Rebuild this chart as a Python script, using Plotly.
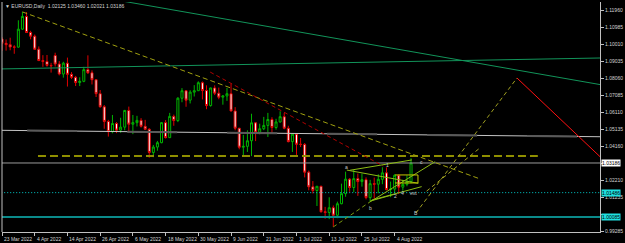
import plotly.graph_objects as go

# ---------------- data ----------------
dates = ["23 Mar","24 Mar","25 Mar","28 Mar","29 Mar","30 Mar","31 Mar","1 Apr",
         "4 Apr","5 Apr","6 Apr","7 Apr","8 Apr","11 Apr","12 Apr","13 Apr",
         "14 Apr","15 Apr","18 Apr","19 Apr","20 Apr","21 Apr","22 Apr","25 Apr",
         "26 Apr","27 Apr","28 Apr","29 Apr","2 May","3 May","4 May","5 May",
         "6 May","9 May","10 May","11 May","12 May","13 May","16 May","17 May",
         "18 May","19 May","20 May","23 May","24 May","25 May","26 May","27 May",
         "30 May","31 May","1 Jun","2 Jun","3 Jun","6 Jun","7 Jun","8 Jun",
         "9 Jun","10 Jun","13 Jun","14 Jun","15 Jun","16 Jun","17 Jun","20 Jun",
         "21 Jun","22 Jun","23 Jun","24 Jun","27 Jun","28 Jun","29 Jun","30 Jun",
         "1 Jul","4 Jul","5 Jul","6 Jul","7 Jul","8 Jul","11 Jul","12 Jul",
         "13 Jul","14 Jul","15 Jul","18 Jul","19 Jul","20 Jul","21 Jul","22 Jul",
         "25 Jul","26 Jul","27 Jul","28 Jul","29 Jul","1 Aug","2 Aug","3 Aug",
         "4 Aug","5 Aug","8 Aug","9 Aug","10 Aug"]

opens = [1.1030,1.1005,1.0997,1.0984,1.0983,1.1086,1.1159,1.1067,
         1.1046,1.0971,1.0906,1.0901,1.0878,1.0935,1.0886,1.0829,
         1.0891,1.0827,1.0810,1.0780,1.0787,1.0854,1.0836,1.0796,
         1.0716,1.0641,1.0557,1.0498,1.0545,1.0507,1.0524,1.0620,
         1.0541,1.0550,1.0563,1.0529,1.0512,1.0379,1.0410,1.0435,
         1.0550,1.0464,1.0586,1.0562,1.0690,1.0733,1.0679,1.0725,
         1.0733,1.0779,1.0734,1.0648,1.0749,1.0719,1.0696,1.0703,
         1.0716,1.0617,1.0518,1.0409,1.0414,1.0446,1.0549,1.0495,
         1.0515,1.0534,1.0568,1.0522,1.0554,1.0584,1.0518,1.0441,
         1.0484,1.0426,1.0425,1.0266,1.0182,1.0161,1.0185,1.0039,
         1.0035,1.0062,1.0019,1.0085,1.0143,1.0226,1.0178,1.0229,
         1.0212,1.0223,1.0120,1.0200,1.0197,1.0225,1.0262,1.0166,
         1.0169,1.0248,1.0180,1.0196,1.02125]
highs = [1.1040,1.1027,1.1037,1.0994,1.1137,1.1185,1.1184,1.1077,
         1.1055,1.0987,1.0937,1.0938,1.0893,1.0951,1.0903,1.0899,
         1.0923,1.0840,1.0818,1.0810,1.0870,1.0936,1.0850,1.0797,
         1.0737,1.0651,1.0566,1.0594,1.0553,1.0578,1.0623,1.0642,
         1.0594,1.0589,1.0576,1.0566,1.0518,1.0422,1.0445,1.0553,
         1.0565,1.0606,1.0596,1.0696,1.0748,1.0737,1.0736,1.0765,
         1.0787,1.0786,1.0764,1.0750,1.0764,1.0751,1.0708,1.0749,
         1.0774,1.0639,1.0520,1.0480,1.0506,1.0601,1.0553,1.0544,
         1.0583,1.0606,1.0581,1.0572,1.0615,1.0606,1.0532,1.0487,
         1.0486,1.0462,1.0433,1.0275,1.0215,1.0186,1.0188,1.0067,
         1.0122,1.0075,1.0097,1.0200,1.0269,1.0232,1.0278,1.0258,
         1.0258,1.0236,1.0222,1.0235,1.0254,1.0294,1.0293,1.0212,
         1.0254,1.0252,1.0222,1.0248,1.03460]
lows = [1.0962,1.0963,1.0965,1.0945,1.0980,1.1083,1.1064,1.1028,
        1.0968,1.0903,1.0870,1.0871,1.0837,1.0872,1.0821,1.0808,
        1.0757,1.0800,1.0760,1.0760,1.0782,1.0829,1.0769,1.0697,
        1.0636,1.0515,1.0470,1.0489,1.0490,1.0492,1.0506,1.0493,
        1.0484,1.0528,1.0522,1.0510,1.0349,1.0352,1.0389,1.0432,
        1.0459,1.0462,1.0532,1.0553,1.0667,1.0641,1.0660,1.0700,
        1.0732,1.0683,1.0627,1.0642,1.0708,1.0684,1.0653,1.0675,
        1.0614,1.0506,1.0397,1.0358,1.0382,1.0358,1.0444,1.0483,
        1.0507,1.0468,1.0487,1.0510,1.0550,1.0512,1.0437,1.0382,
        1.0365,1.0410,1.0236,1.0162,1.0144,1.0072,1.0034,0.9999,
        0.9997,0.9952,1.0002,1.0082,1.0125,1.0153,1.0151,1.0130,
        1.0183,1.0110,1.0096,1.0113,1.0145,1.0197,1.0162,1.0123,
        1.0147,1.0141,1.0160,1.0185,1.02021]
closes = [1.1005,1.0997,1.0984,1.0983,1.1086,1.1159,1.1067,1.1046,
          1.0971,1.0906,1.0901,1.0878,1.0876,1.0886,1.0829,1.0891,
          1.0827,1.0810,1.0780,1.0787,1.0854,1.0836,1.0796,1.0716,
          1.0641,1.0557,1.0498,1.0545,1.0507,1.0524,1.0620,1.0541,
          1.0550,1.0563,1.0529,1.0512,1.0379,1.0410,1.0435,1.0550,
          1.0464,1.0586,1.0562,1.0690,1.0733,1.0679,1.0725,1.0733,
          1.0779,1.0734,1.0648,1.0749,1.0719,1.0696,1.0703,1.0716,
          1.0617,1.0518,1.0409,1.0414,1.0446,1.0549,1.0495,1.0515,
          1.0534,1.0568,1.0522,1.0554,1.0584,1.0518,1.0441,1.0484,
          1.0426,1.0425,1.0266,1.0182,1.0161,1.0185,1.0039,1.0035,
          1.0062,1.0019,1.0085,1.0143,1.0226,1.0178,1.0229,1.0212,
          1.0223,1.0120,1.0200,1.0197,1.0225,1.0262,1.0166,1.0169,
          1.0248,1.0180,1.0196,1.0212,1.03186]

date_tick_index = [0, 8, 16, 24, 32, 40, 48, 56, 64, 72, 80, 88, 96]
date_tick_text = ["23 Mar 2022", "4 Apr 2022", "14 Apr 2022", "26 Apr 2022",
                  "6 May 2022", "18 May 2022", "30 May 2022", "9 Jun 2022",
                  "21 Jun 2022", "1 Jul 2022", "13 Jul 2022", "25 Jul 2022",
                  "4 Aug 2022"]
# price scale labels (1.03185 and 1.00260 are hidden behind the price boxes)
price_ticks = [0.99285, 1.00260, 1.01235, 1.02210, 1.03185, 1.04160, 1.05135,
               1.06110, 1.07085, 1.08060, 1.09035, 1.10010, 1.10985, 1.11960]
price_tick_text = ["0.99285", "", "1.01235", "1.02210", "", "1.04160", "1.05135",
                   "1.06110", "1.07085", "1.08060", "1.09035", "1.10010", "1.10985",
                   "1.11960"]

header_text = "EURUSD,Daily  1.02125 1.03460 1.02021 1.03186"
bid_price = 1.03186
level_cyan_dotted = 1.01486
level_teal = 1.00085
level_olive = 1.0359

# drawing objects: (bar index, price) anchors
trend_main = [(5, 1.1185), (117, 1.0226)]
trend_red_dash = [(50.9, 1.0840), (93.2, 1.0301)]
gray_line = [(-18.3, 1.05106), (150, 1.04682)]
green_flat = [(-18.3, 1.08502), (150, 1.09224)]
green_desc = [(26.4, 1.12597), (149.9, 1.07532)]
proj_up = [(101.2, 1.00317), (125.9, 1.08060)]
proj_down = [(125.9, 1.08060), (149.9, 1.02726)]
proj_up2 = [(103.8, 1.01570), (116.9, 1.04060)]
wave_dash = [(81, 0.9952), (90, 1.0096)]
wave_lines = [
    [(85.1, 1.0277), (100.2, 1.0336)],
    [(90.0, 1.0096), (105.9, 1.0326)],
    [(90.4, 1.0106), (102.6, 1.0183)],
    [(84.3, 1.0278), (101.8, 1.0202)],
    [(90.0, 1.0100), (96.1, 1.0140)],
]
wave_box = [(96.1, 1.0250), (101.7, 1.0204)]
wave_labels = [("a", 84.2, 1.0295), ("b", 90.2, 1.0062), ("1", 94.2, 1.0308),
               ("2", 96.3, 1.0130), ("4", 98.0, 1.0145), ("ext", 100.6, 1.0145),
               ("c", 102.5, 1.0325), ("B", 101.2, 1.0033)]

# ---------------- figure ----------------
xs = list(range(len(dates)))
fig = go.Figure()
fig.add_trace(go.Candlestick(
    x=xs, open=opens, high=highs, low=lows, close=closes,
    increasing=dict(line=dict(color="#00b400", width=1), fillcolor="#000000"),
    decreasing=dict(line=dict(color="#e00000", width=1), fillcolor="#ffffff"),
    hoverinfo="skip", whiskerwidth=0,
))

def seg(pts, color, width=1, dash="solid"):
    fig.add_trace(go.Scatter(x=[p[0] for p in pts], y=[p[1] for p in pts],
                             mode="lines", line=dict(color=color, width=width, dash=dash),
                             hoverinfo="skip"))

XL, XR = -20, 150
seg([(XL, level_teal), (XR, level_teal)], "#0a8a8a", 2)
seg([(XL, level_cyan_dotted), (XR, level_cyan_dotted)], "#00c8c8", 1, "1px,2px")
seg([(XL, bid_price), (XR, bid_price)], "#9a9a9a", 1)
seg(gray_line, "#c4c4c4", 1)
seg(gray_line, "#5a5a5a", 2, "50px,50px")
seg(green_flat, "#12945a", 1)
seg(green_desc, "#12945a", 1)
seg([(8.8, level_olive), (131, level_olive)], "#8f8f00", 2, "8px,4px")
seg(trend_main, "#a0a010", 1, "5px,3px")
seg(trend_red_dash, "#b00000", 1, "4px,3px")
seg(wave_dash, "#7a9a10", 1, "4px,3px")
for wl in wave_lines:
    seg(wl, "#8cbc14", 1)
(bx0, by0), (bx1, by1) = wave_box
seg([(bx0, by0), (bx1, by0), (bx1, by1), (bx0, by1)], "#c8c800", 1)
seg(proj_up, "#a0a020", 1, "4px,3px")
seg(proj_up2, "#a0a020", 1, "4px,3px")
seg(proj_down, "#ff1010", 1)

FONT = "Liberation Sans"
TXT = "#d4d4d4"
ann = []
for t, xi, yp in wave_labels:
    ann.append(dict(x=xi, y=yp, xref="x", yref="y", text=t, showarrow=False,
                    font=dict(family=FONT, size=5, color="#c8c8c8")))
ann.append(dict(x=0, y=1, xref="paper", yref="paper", xanchor="left", yanchor="top",
                xshift=1, yshift=1, text="\u25bc " + header_text, showarrow=False,
                font=dict(family=FONT, size=5, color=TXT)))
for val, bg in [(bid_price, "#ffffff"), (level_cyan_dotted, "#1ee0e0"), (level_teal, "#1ee0e0")]:
    ann.append(dict(x=1, y=val, xref="paper", yref="y", xanchor="left", yanchor="middle",
                    xshift=1, text="%.5f" % val, showarrow=False, bgcolor=bg, borderpad=0,
                    font=dict(family=FONT, size=5, color="#000000")))
# date labels: MT4 style, left-aligned just right of each tick mark
for xi, t in zip(date_tick_index, date_tick_text):
    ann.append(dict(x=xi, y=0, xref="x", yref="paper", xanchor="left", yanchor="top",
                    xshift=0, yshift=-2, text=t, showarrow=False,
                    font=dict(family=FONT, size=5, color=TXT)))

fig.add_shape(type="line", xref="paper", yref="paper", x0=0, x1=0, y0=0, y1=1,
              line=dict(color="#c0c0c0", width=1))

fig.update_layout(
    width=625, height=243,
    margin=dict(l=2, r=25, t=2, b=11, pad=0),
    paper_bgcolor="#000000", plot_bgcolor="#000000",
    showlegend=False, hovermode=False,
    annotations=ann,
    xaxis=dict(range=[0, 146.2], rangeslider=dict(visible=False), showgrid=False,
               zeroline=False, showline=True, linecolor="#c0c0c0", linewidth=1,
               automargin=False,
               tickmode="array", tickvals=date_tick_index, showticklabels=False,
               ticks="outside", ticklen=3, tickcolor="#c0c0c0"),
    yaxis=dict(range=[0.99228, 1.12419], side="right", showgrid=False, zeroline=False,
               showline=True, linecolor="#c0c0c0", linewidth=1,
               automargin=False,
               tickmode="array", tickvals=price_ticks, ticktext=price_tick_text,
               ticks="outside", ticklen=3, tickcolor="#c0c0c0",
               tickfont=dict(family=FONT, size=5, color=TXT)),
)

fig.write_html("out.html")
